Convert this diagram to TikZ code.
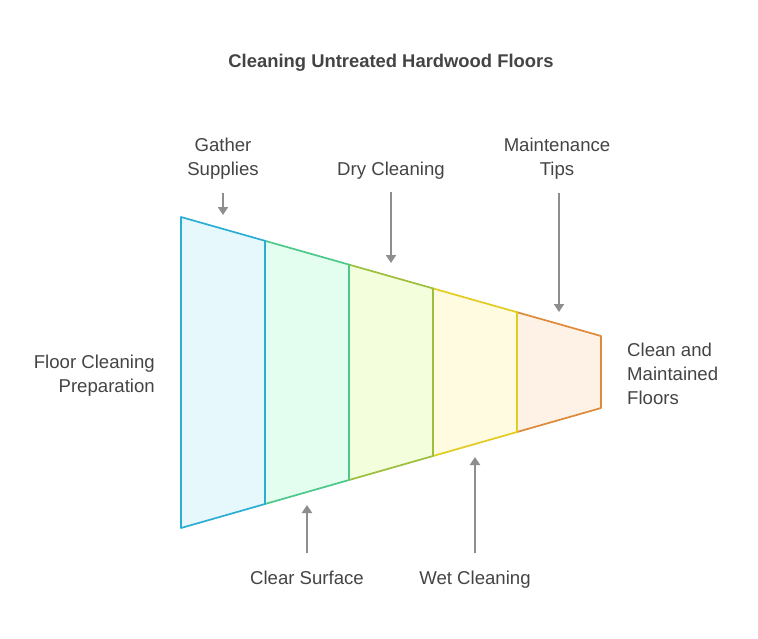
\documentclass[tikz,border=0pt]{standalone}
\usepackage{fontspec}
\setmainfont{Liberation Sans}
\usepackage{xcolor}
\usetikzlibrary{arrows.meta,positioning}
\definecolor{txt}{HTML}{444444}
\definecolor{arrgray}{HTML}{8E8E8E}
\definecolor{blueln}{HTML}{2CAED4}\definecolor{bluefl}{HTML}{E7F8FD}
\definecolor{greenln}{HTML}{4CC98A}\definecolor{greenfl}{HTML}{E3FDEE}
\definecolor{oliveln}{HTML}{9DBF3B}\definecolor{olivefl}{HTML}{F3FEDD}
\definecolor{yellowln}{HTML}{E2CC22}\definecolor{yellowfl}{HTML}{FEFBE1}
\definecolor{orangeln}{HTML}{DE8A3A}\definecolor{orangefl}{HTML}{FEF1E5}

\begin{document}
\begin{tikzpicture}[x=1pt, y=-1pt, every node/.style={font=\fontsize{18.6}{24}\selectfont, text=txt, inner sep=0pt}, lbl/.style={align=center, anchor=base}, seg/.style={line width=1.7pt, line join=round}, arr/.style={-{Triangle[length=8pt, width=10pt]}, line width=2pt, draw=arrgray}]
\useasboundingbox (0,0) rectangle (758,638);
% funnel, drawn right to left so each left edge sits on top
\filldraw[seg, draw=orangeln, fill=orangefl] (517,312.2) -- (601,336) -- (601,408) -- (517,432) -- cycle;
\filldraw[seg, draw=yellowln, fill=yellowfl] (433,288.4) -- (517,312.2) -- (517,432) -- (433,456) -- cycle;
\filldraw[seg, draw=oliveln, fill=olivefl] (349,264.6) -- (433,288.4) -- (433,456) -- (349,480) -- cycle;
\filldraw[seg, draw=greenln, fill=greenfl] (265,240.8) -- (349,264.6) -- (349,480) -- (265,504) -- cycle;
\filldraw[seg, draw=blueln, fill=bluefl] (181,217) -- (265,240.8) -- (265,504) -- (181,528) -- cycle;
% labels (base = last line)
\node[font=\fontsize{18.4}{20}\selectfont\bfseries, anchor=base] (title) at (391,67) {Cleaning Untreated Hardwood Floors};
\node[lbl] (gather) at (223,175) {Gather\\Supplies};
\node[lbl] (dry) at (391,175) {Dry Cleaning};
\node[lbl] (maint) at (557,175) {Maintenance\\Tips};
\node[lbl] (clear) at (307,584) {Clear Surface};
\node[lbl] (wet) at (475,584) {Wet Cleaning};
\node[align=right, anchor=base east] (prep) at (155,392) {Floor Cleaning\\Preparation};
\node[align=left, anchor=base west] (done) at (627,404) {Clean and\\Maintained\\Floors};
% arrow ends
\coordinate (gatherTip) at (223,215);
\coordinate (dryTip) at (391,263);
\coordinate (maintTip) at (559,312);
\coordinate (clearTip) at (307,505);
\coordinate (wetTip) at (475,457);
\draw[arr, shorten <=14pt] (gather.south -| gatherTip) -- (gatherTip);
\draw[arr, shorten <=13pt] (dry.south -| dryTip) -- (dryTip);
\draw[arr, shorten <=14pt] (maint.south -| maintTip) -- (maintTip);
\draw[arr, shorten <=17pt] (clear.north -| clearTip) -- (clearTip);
\draw[arr, shorten <=17pt] (wet.north -| wetTip) -- (wetTip);
\end{tikzpicture}
\end{document}
